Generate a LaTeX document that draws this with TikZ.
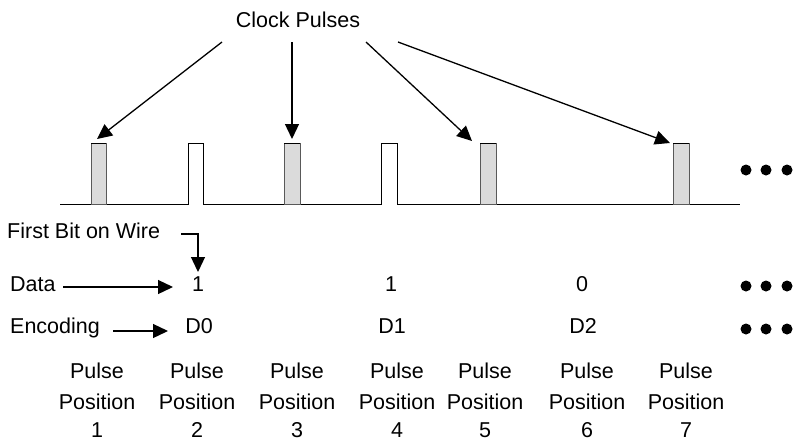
\documentclass[tikz,border=0pt]{standalone}
\usepackage{fontspec}
\setmainfont{Liberation Sans}
\usetikzlibrary{arrows.meta}
\begin{document}
\begin{tikzpicture}[x=1pt,y=-1pt,
  lbl/.style={inner sep=0pt,anchor=base,font=\fontsize{21.5}{25}\selectfont},
  lbll/.style={lbl,anchor=base west},
  ptr/.style={line width=1.3pt,-{Triangle[length=15pt,width=14pt]}},
  wire/.style={line width=0.9pt},
  clk/.style={draw=gray!70!black,line width=0.8pt,fill=gray!28},
  dot/.style={fill=black,draw=none}]
\useasboundingbox (0,0) rectangle (793,440);

% waveform: baseline with seven pulse slots (slot 6 empty)
\draw[wire] (60,204) -- (91,204) -- (91,143) -- (106,143) -- (106,204)
  -- (188,204) -- (188,143) -- (203,143) -- (203,204)
  -- (284,204) -- (284,143) -- (300,143) -- (300,204)
  -- (381,204) -- (381,143) -- (397,143) -- (397,204)
  -- (480,204) -- (480,143) -- (496,143) -- (496,204)
  -- (673,204) -- (673,143) -- (689,143) -- (689,204)
  -- (740,204);
% shaded clock pulses
\draw[clk] (91,143) rectangle (106,204);
\draw[clk] (284,143) rectangle (300,204);
\draw[clk] (480,143) rectangle (496,204);
\draw[clk] (673,143) rectangle (689,204);
\draw[wire] (91,143) -- (106,143) (284,143) -- (300,143) (480,143) -- (496,143) (673,143) -- (689,143);

\coordinate (t1) at (97,139);
\coordinate (t3) at (292,139);
\coordinate (t5) at (472,141);
\coordinate (t7) at (670,143);

% clock pulse label and pointers
\node[lbl] (clock) at (298,27) {Clock Pulses};
\coordinate (c1) at (222,42);
\coordinate (c2) at (292,42);
\coordinate (c3) at (366,42);
\coordinate (c4) at (398,42);
\draw[ptr] (c1) -- (t1);
\draw[ptr] (c2) -- (t3);
\draw[ptr] (c3) -- (t5);
\draw[ptr] (c4) -- (t7);

% continuation dots
\foreach \r/\yy in {a/170,b/286,c/329}{
  \fill[dot] (746,\yy) circle (5.5) (766,\yy) circle (5.5) (787,\yy) circle (5.5);
}

% first bit, data and encoding rows
\node[lbll] (first) at (7,238) {First Bit on Wire};
\node[lbll] (data) at (10,291) {Data};
\node[lbll] (enc) at (10,333) {Encoding};

\node[lbl] (d1) at (198,291) {1};
\node[lbl] (d2) at (391,291) {1};
\node[lbl] (d3) at (582,291) {0};
\node[lbl] (e0) at (199,333) {D0};
\node[lbl] (e1) at (392,333) {D1};
\node[lbl] (e2) at (583,333) {D2};

\coordinate (fb) at (181,234);
\coordinate (fbtip) at (198,272);
\draw[ptr] (fb) -- (fbtip |- fb) -- (fbtip);
\coordinate (da) at (63,287);
\coordinate (datip) at (173,287);
\draw[ptr] (da) -- (datip);
\coordinate (ea) at (113,331);
\coordinate (eatip) at (168,331);
\draw[ptr] (ea) -- (eatip);

% pulse position labels
\foreach \n/\xx in {1/97,2/197,3/297,4/397,5/485,6/587,7/686}{
  \node[lbl] (pp\n a) at (\xx,378) {Pulse};
  \node[lbl] (pp\n b) at (\xx,409) {Position};
  \node[lbl] (pp\n c) at (\xx,437) {\n};
}
\end{tikzpicture}
\end{document}
